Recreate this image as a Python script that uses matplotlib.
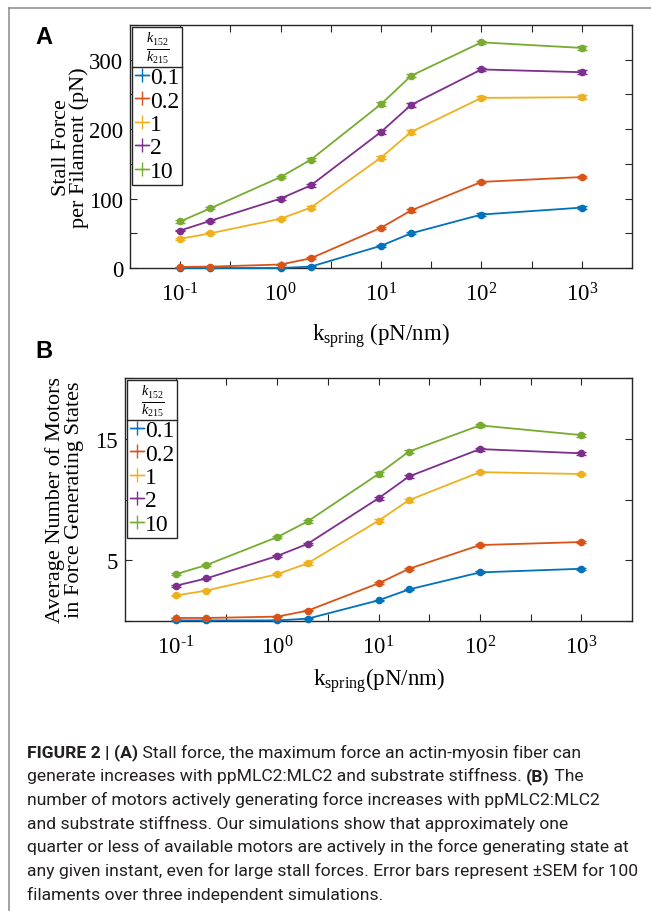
import matplotlib
matplotlib.use("Agg")
import matplotlib.pyplot as plt
from matplotlib.lines import Line2D
from matplotlib import font_manager

plt.rcParams["font.family"] = "Liberation Serif"
plt.rcParams["mathtext.fontset"] = "custom"
plt.rcParams["mathtext.rm"] = "Liberation Serif"
plt.rcParams["mathtext.it"] = "Liberation Serif:italic"
plt.rcParams["mathtext.bf"] = "Liberation Serif:bold"

# --- data ---
k_spring = [0.1, 0.2, 1, 2, 10, 20, 100, 1000]
ratio_labels = ["0.1", "0.2", "1", "2", "10"]
colors = ["#0072BD", "#D95319", "#EDB120", "#7E2F8E", "#77AC30"]

# panel A: stall force per filament (pN)
stall_01 = [0, 0, 0, 2, 32, 50, 77, 87]
stall_02 = [1.5, 2, 5, 14, 58, 83, 124, 131]
stall_1 = [42, 50, 71, 87, 159, 196, 245, 246]
stall_2 = [54, 68, 100, 119, 196, 235, 286, 282]
stall_10 = [67, 86, 131, 156, 236, 277, 325, 317]

stall_err_01 = [0.3, 0.3, 0.4, 0.6, 1.5, 1.5, 1.6, 1.8]
stall_err_02 = [0.5, 0.5, 0.8, 1.2, 1.6, 1.8, 1.8, 2.0]
stall_err_1 = [1.2, 1.4, 1.6, 2.0, 2.5, 2.5, 2.2, 2.5]
stall_err_2 = [1.4, 1.5, 1.8, 2.2, 2.8, 2.8, 2.4, 2.6]
stall_err_10 = [1.5, 1.6, 2.0, 2.5, 2.8, 2.6, 2.0, 2.8]

# panel B: average number of motors in force generating states
motors_01 = [0.05, 0.05, 0.05, 0.19, 1.7, 2.6, 4.0, 4.3]
motors_02 = [0.25, 0.25, 0.36, 0.85, 3.1, 4.3, 6.25, 6.5]
motors_1 = [2.1, 2.5, 3.85, 4.75, 8.25, 9.95, 12.25, 12.1]
motors_2 = [2.9, 3.5, 5.35, 6.35, 10.1, 11.9, 14.15, 13.8]
motors_10 = [3.85, 4.6, 6.9, 8.2, 12.1, 13.95, 16.1, 15.3]

motors_err_01 = [0.02, 0.02, 0.02, 0.03, 0.06, 0.07, 0.08, 0.08]
motors_err_02 = [0.03, 0.03, 0.04, 0.05, 0.08, 0.09, 0.09, 0.1]
motors_err_1 = [0.06, 0.07, 0.08, 0.1, 0.12, 0.12, 0.11, 0.12]
motors_err_2 = [0.07, 0.08, 0.09, 0.11, 0.13, 0.13, 0.12, 0.13]
motors_err_10 = [0.08, 0.09, 0.1, 0.12, 0.13, 0.12, 0.1, 0.13]

x_tick_pos = [10 ** (e / 2) for e in range(-2, 7)]
x_tick_labels = ["$10^{\u20101}$", "", "$10^{0}$", "", "$10^{1}$", "", "$10^{2}$", "", "$10^{3}$"]

caption_lines = [
    [("FIGURE 2 | (A)", "bold"), (" Stall force, the maximum force an actin-myosin fiber can", "normal")],
    [("generate increases with ppMLC2:MLC2 and substrate stiffness. ", "normal"), ("(B)", "bold"), (" The", "normal")],
    [("number of motors actively generating force increases with ppMLC2:MLC2", "normal")],
    [("and substrate stiffness. Our simulations show that approximately one", "normal")],
    [("quarter or less of available motors are actively in the force generating state at", "normal")],
    [("any given instant, even for large stall forces. Error bars represent \u00b1SEM for 100", "normal")],
    [("filaments over three independent simulations.", "normal")],
]

W, H = 651, 912
fig = plt.figure(figsize=(W / 100, H / 100), dpi=100)
axis_col = "#262626"


def px_rect(left, top, right, bottom):
    return [left / W, 1 - bottom / H, (right - left) / W, (bottom - top) / H]


def draw_panel(ax, series, errs, ylim, yticks, ylabels):
    for vals, err, col in zip(series, errs, colors):
        ax.errorbar(k_spring, vals, yerr=err, color=col, lw=1.3, marker="o", ms=4.5,
                    capsize=3.5, elinewidth=1.0, capthick=1.0, clip_on=False, zorder=3)
    ax.set_xscale("log")
    ax.set_xlim(10 ** -1.5, 10 ** 3.5)
    ax.set_ylim(*ylim)
    ax.set_xticks(x_tick_pos)
    ax.set_xticklabels(x_tick_labels)
    ax.xaxis.set_minor_locator(matplotlib.ticker.NullLocator())
    ax.set_yticks(yticks)
    ax.set_yticklabels(ylabels)
    ax.tick_params(direction="in", length=5, width=0.8, color=axis_col, top=True, right=True,
                   labelsize=16.5, labelcolor="black")
    ax.tick_params(axis="x", pad=10)
    ax.tick_params(axis="y", pad=5)
    for sp in ax.spines.values():
        sp.set_color(axis_col)
        sp.set_linewidth(1.0)
    handles = [Line2D([], [], color=c, lw=1.0, marker="+", ms=10, mew=1.0) for c in colors]
    leg = ax.legend(handles, ratio_labels, loc="upper left", bbox_to_anchor=(0.004, 0.99),
                    borderaxespad=0, fontsize=17, title=r"$\frac{k_{152}}{k_{215}}$",
                    title_fontsize=14.5, handlelength=0.6, handletextpad=0.05, borderpad=0.12,
                    labelspacing=0.08, fancybox=False, edgecolor=axis_col, framealpha=1)
    leg.get_frame().set_linewidth(1.0)
    return leg


axA = fig.add_axes(px_rect(130, 26, 632, 269))
legA = draw_panel(axA, [stall_01, stall_02, stall_1, stall_2, stall_10],
                  [stall_err_01, stall_err_02, stall_err_1, stall_err_2, stall_err_10],
                  (0, 350), [0, 50, 100, 150, 200, 250, 300, 350],
                  ["0", "", "100", "", "200", "", "300", ""])
axA.set_xlabel(r"$\mathrm{k}_{\mathrm{spring}}$ (pN/nm)", fontsize=16.5)
axA.xaxis.set_label_coords(0.5, -0.215)

axB = fig.add_axes(px_rect(125, 379, 632, 622))
legB = draw_panel(axB, [motors_01, motors_02, motors_1, motors_2, motors_10],
                  [motors_err_01, motors_err_02, motors_err_1, motors_err_2, motors_err_10],
                  (0, 20), [0, 5, 10, 15, 20], ["", "5", "", "15", ""])
axB.set_xlabel(r"$\mathrm{k}_{\mathrm{spring}}$(pN/nm)", fontsize=16.5)
axB.xaxis.set_label_coords(0.5, -0.183)

fig.text(70.5 / W, 1 - 148 / H, "Stall Force\nper Filament (pN)", rotation=90, ha="center",
         va="center", fontsize=16, linespacing=0.95)
fig.text(64.5 / W, 1 - 500 / H, "Average Number of Motors\nin Force Generating States",
         rotation=90, ha="center", va="center", fontsize=16, linespacing=0.95)

fig.text(35 / W, 1 - 37 / H, "A", fontsize=17, fontweight="bold", family="Liberation Sans",
         ha="left", va="center")
fig.text(35 / W, 1 - 351 / H, "B", fontsize=17, fontweight="bold", family="Liberation Sans",
         ha="left", va="center")

# thin border of the figure box
fig.add_artist(Line2D([9 / W, 1], [1 - 9 / H, 1 - 9 / H], color="#8a8a8a", lw=1.1))
fig.add_artist(Line2D([9 / W, 9 / W], [0, 1 - 9 / H], color="#8a8a8a", lw=1.1))

fig.canvas.draw()
renderer = fig.canvas.get_renderer()

# line under the legend title
for leg in (legA, legB):
    fb = leg.get_frame().get_window_extent(renderer)
    tb = leg.get_title().get_window_extent(renderer)
    ysep = tb.y0 - 2
    fig.add_artist(Line2D([fb.x0 / W, fb.x1 / W], [ysep / H, ysep / H], color=axis_col, lw=1.0))

names = {f.name for f in font_manager.fontManager.ttflist}
cap_font = "Liberation Sans Narrow" if "Liberation Sans Narrow" in names else "Roboto"
cap_size = 14 if cap_font == "Liberation Sans Narrow" else 12.6

for i, line in enumerate(caption_lines):
    x = 27
    y = 1 - (751 + i * 23.7) / H
    for txt, wt in line:
        t = fig.text(x / W, y, txt, fontsize=cap_size, fontweight=wt, family=cap_font,
                     ha="left", va="center_baseline", color="#231f20")
        x += t.get_window_extent(renderer).width

fig.savefig("out.png", dpi=100)
